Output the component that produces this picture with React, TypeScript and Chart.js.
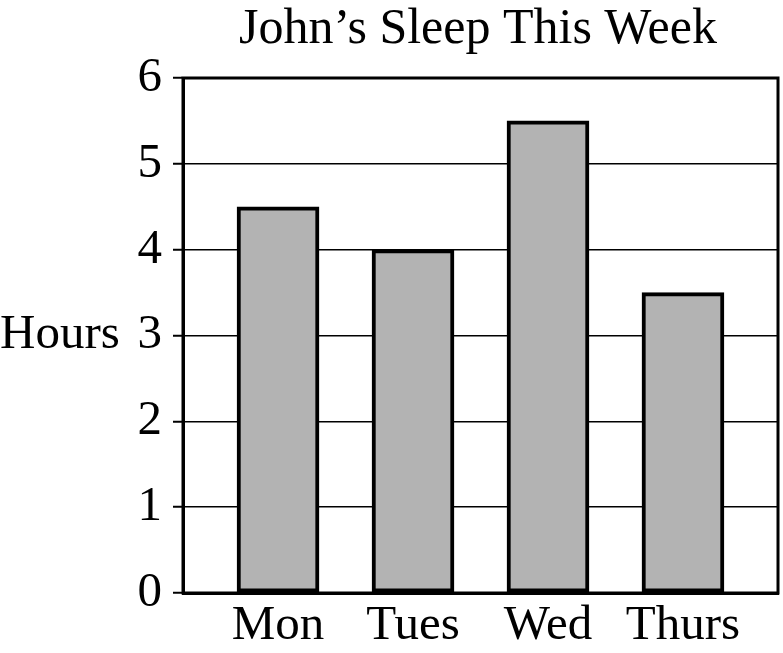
import React, { useEffect, useRef } from "react";
import { Chart, registerables } from "chart.js";

Chart.register(...registerables);

const days = ["Mon", "Tues", "Wed", "Thurs"];
const hours = [4.5, 4, 5.5, 3.5];
const yTickValues = [0, 1, 2, 3, 4, 5, 6];
const chartTitle = "John\u2019s Sleep This Week";
const yLabel = "Hours";

const FONT = '"Liberation Serif", "Times New Roman", serif';

export default function App() {
  const ref = useRef<HTMLCanvasElement>(null);

  useEffect(() => {
    document.body.style.margin = "0";
    const canvas = ref.current;
    if (!canvas) return;

    const overlay = {
      id: "overlay",
      afterDraw(chart: any) {
        const { ctx, chartArea: a, scales } = chart;
        ctx.save();
        ctx.strokeStyle = "#000";
        ctx.lineWidth = 3;
        ctx.strokeRect(a.left, a.top, a.right - a.left, a.bottom - a.top);
        ctx.fillStyle = "#000";
        ctx.font = `50px ${FONT}`;
        ctx.textAlign = "center";
        ctx.textBaseline = "alphabetic";
        ctx.fillText(chartTitle, 478, 43);
        ctx.font = `49px ${FONT}`;
        ctx.textAlign = "left";
        ctx.textBaseline = "middle";
        ctx.fillText(yLabel, 0, scales.y.getPixelForValue(3));
        ctx.restore();
      },
    };

    const chart = new Chart(canvas, {
      type: "bar",
      data: {
        datasets: [
          {
            data: hours.map((v, i) => ({ x: i, y: v })),
            backgroundColor: "#b3b3b3",
            borderColor: "#000",
            borderWidth: 4,
            borderSkipped: false,
            barThickness: 82,
          },
        ],
      },
      options: {
        animation: false,
        responsive: false,
        devicePixelRatio: 1,
        layout: { padding: { top: 78, right: 5, left: 0, bottom: 0 } },
        plugins: {
          legend: { display: false },
          tooltip: { enabled: false },
          title: { display: false },
        },
        scales: {
          x: {
            type: "linear",
            offset: false,
            min: -0.704,
            max: 3.704,
            afterBuildTicks: (s: any) => {
              s.ticks = days.map((_, i) => ({ value: i }));
            },
            afterFit: (s: any) => {
              s.height = 60;
            },
            grid: { display: false, drawTicks: false, offset: false },
            border: { display: true, color: "#000", width: 3 },
            ticks: {
              color: "#000",
              font: { family: FONT, size: 49 },
              padding: 4,
              maxRotation: 0,
              autoSkip: false,
              callback: (v: any) => days[v as number] ?? "",
            },
          },
          y: {
            min: 0,
            max: 6,
            afterBuildTicks: (s: any) => {
              s.ticks = yTickValues.map((v) => ({ value: v }));
            },
            afterFit: (s: any) => {
              s.width = 183;
            },
            grid: {
              color: "#000",
              lineWidth: 1.5,
              drawTicks: true,
              tickLength: 10,
              tickWidth: 2,
              tickColor: "#000",
            },
            border: { display: true, color: "#000", width: 3 },
            ticks: {
              color: "#000",
              font: { family: FONT, size: 49 },
              padding: 11,
            },
          },
        },
      },
      plugins: [overlay],
    });

    return () => chart.destroy();
  }, []);

  return (
    <div style={{ width: 783, height: 653 }}>
      <canvas ref={ref} width={783} height={653} style={{ display: "block" }} />
    </div>
  );
}
